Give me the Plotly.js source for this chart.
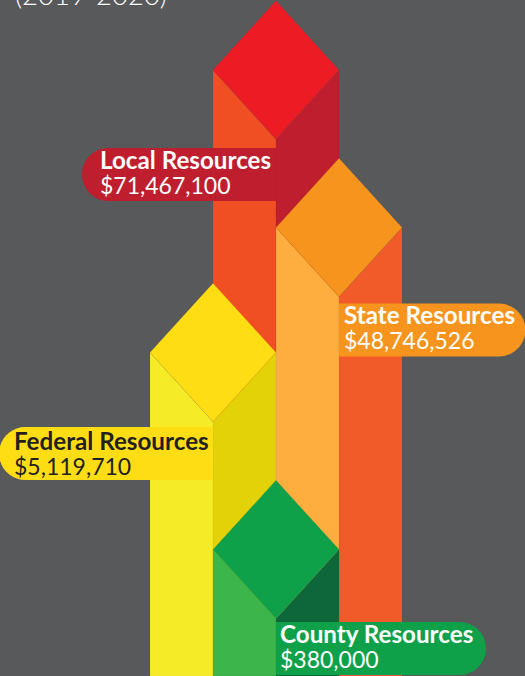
<!DOCTYPE html>
<html>
<head>
<meta charset="utf-8">
<script src="https://cdn.plot.ly/plotly-3.0.1.min.js"></script>
<style>html,body{margin:0;padding:0;background:#58595b;overflow:hidden}#chart{width:525px;height:676px}</style>
</head>
<body>
<div id="chart"></div>
<script>
// Data, back-to-front drawing order
var categories = ['Local Resources', 'State Resources', 'Federal Resources', 'County Resources'];
var amounts = [71467100, 48746526, 5119710, 380000];
var columnHeights = [675.2, 517.7, 392.7, 195.7];   // apparent column height
var lanes = [0, 1, -1, 0];                  // which lane each column stands in
var topColors = ['#ed1c24', '#f7941d', '#ffdd15', '#0fa14a'];
var leftColors = ['#f04e23', '#fdae3f', '#f6eb27', '#3cb54a'];
var rightColors = ['#be1e2d', '#f15a29', '#e2d207', '#0d673a'];
var pillColors = ['#be1e2d', '#f7941d', '#ffdd15', '#0fa14a'];
var textColors = ['#ffffff', '#ffffff', '#231f20', '#ffffff'];
var period = '(2019-2020)';

// Geometry constants of the drawing
var PXPERLANE = 63, CX = 276, W = 525, H = 676, DIAMOND = 69.2, R = 26.5, PILLH = 53;
function lx(pixel) { return (pixel - CX) / PXPERLANE; }
function yv(pixel) { return H - pixel; }
var seam = 'rgba(60,60,60,0.1)';

function poly(xs, ys, color) {
  return {
    type: 'scatter', mode: 'lines', x: xs.concat(xs[0]), y: ys.concat(ys[0]),
    fill: 'toself', fillcolor: color, line: { color: seam, width: 0.5 },
    hoverinfo: 'skip', showlegend: false
  };
}

var traces = [];
categories.forEach(function (c, i) {
  var m = lanes[i], top = columnHeights[i], side = top - DIAMOND, low = top - 2 * DIAMOND;
  traces.push(poly([m - 1, m, m, m - 1], [side, low, 0, 0], leftColors[i]));
  traces.push(poly([m, m + 1, m + 1, m], [low, side, 0, 0], rightColors[i]));
  traces.push(poly([m - 1, m, m + 1, m], [side, top, side, low], topColors[i]));
});

// Callout boxes: left px, right px, top px, rounded side, text x px, text nudge px
var callouts = [
  { l: 82, r: 276, t: 148, round: 'left', tx: 100, dy: 0 },
  { l: 339, r: 525.5, t: 303.5, round: 'right', tx: 344, dy: -0.5 },
  { l: -1, r: 212.5, t: 427, round: 'left', tx: 13.5, dy: 1.5 },
  { l: 276, r: 486, t: 622, round: 'right', tx: 280, dy: 0 }
];
function pillPath(b) {
  var x0 = lx(b.l), x1 = lx(b.r), t = yv(b.t), bm = yv(b.t + PILLH), rx = R / PXPERLANE, ymid = (t + bm) / 2, k = 0.45;
  if (b.round === 'left') {
    return 'M' + x1 + ' ' + t + ' L' + (x0 + rx) + ' ' + t +
      ' C' + (x0 + rx * k) + ' ' + t + ' ' + x0 + ' ' + (ymid + R * (1 - k)) + ' ' + x0 + ' ' + ymid +
      ' C' + x0 + ' ' + (ymid - R * (1 - k)) + ' ' + (x0 + rx * k) + ' ' + bm + ' ' + (x0 + rx) + ' ' + bm +
      ' L' + x1 + ' ' + bm + ' Z';
  }
  return 'M' + x0 + ' ' + t + ' L' + (x1 - rx) + ' ' + t +
    ' C' + (x1 - rx * k) + ' ' + t + ' ' + x1 + ' ' + (ymid + R * (1 - k)) + ' ' + x1 + ' ' + ymid +
    ' C' + x1 + ' ' + (ymid - R * (1 - k)) + ' ' + (x1 - rx * k) + ' ' + bm + ' ' + (x1 - rx) + ' ' + bm +
    ' L' + x0 + ' ' + bm + ' Z';
}
var shapes = callouts.map(function (b, i) {
  return { type: 'path', xref: 'x', yref: 'y', path: pillPath(b), fillcolor: pillColors[i], line: { width: 0 }, layer: 'above' };
});

var annotations = [];
function fmt(v) { return '$' + v.toLocaleString('en-US'); }
callouts.forEach(function (b, i) {
  annotations.push({
    xref: 'x', yref: 'y', x: lx(b.tx), y: yv(b.t + 11.5 + b.dy), xanchor: 'left', yanchor: 'middle', showarrow: false,
    text: '<b>' + categories[i] + '</b>', xshift: -2,
    font: { family: 'Lato', size: 24.2, color: textColors[i], weight: 900 }
  });
  annotations.push({
    xref: 'x', yref: 'y', x: lx(b.tx), y: yv(b.t + 37 + b.dy), xanchor: 'left', yanchor: 'middle', showarrow: false,
    text: fmt(amounts[i]), xshift: -2,
    font: { family: 'Lato', size: 23, color: textColors[i], weight: 400 }
  });
});
annotations.push({
  xref: 'x', yref: 'y', x: lx(15), y: yv(1), xanchor: 'left', yanchor: 'middle', showarrow: false, xshift: -2, yshift: 7,
  text: period, font: { family: 'Lato', size: 27.5, color: '#ffffff', weight: 300 }
});

Plotly.newPlot('chart', traces, {
  width: W, height: H, margin: { l: 0, r: 0, t: 0, b: 0 },
  paper_bgcolor: '#58595b', plot_bgcolor: '#58595b', showlegend: false,
  xaxis: { range: [lx(0), lx(W)], visible: false, fixedrange: true },
  yaxis: { range: [0, H], visible: false, fixedrange: true },
  shapes: shapes, annotations: annotations
}, { displayModeBar: false, staticPlot: true });
</script>
</body>
</html>
